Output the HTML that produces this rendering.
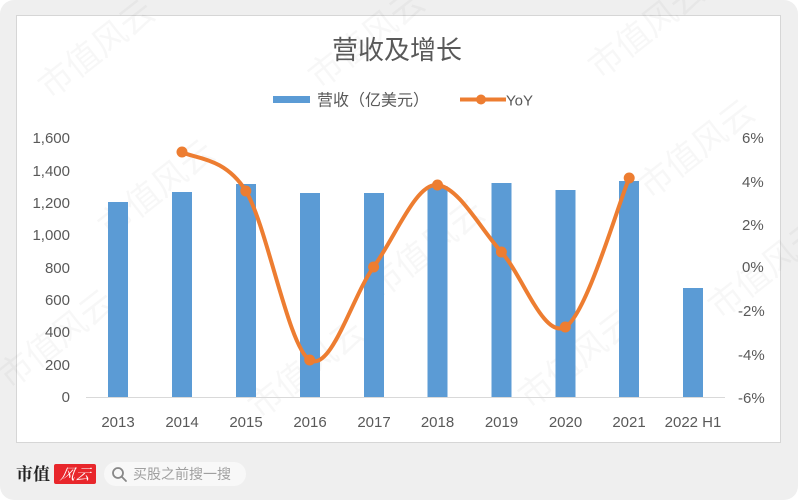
<!DOCTYPE html>
<html><head><meta charset="utf-8"><style>
html,body{margin:0;padding:0;background:#fff;width:798px;height:500px;overflow:hidden;}
svg{display:block;}
</style></head><body>
<svg width="798" height="500" viewBox="0 0 798 500" xmlns="http://www.w3.org/2000/svg" style="overflow:hidden">
<rect x="0" y="0" width="798" height="500" rx="14" fill="#efefef"/>
<rect x="16.5" y="15.5" width="764" height="427" fill="#ffffff" stroke="#d6d6d6" stroke-width="1"/>
<!-- watermarks -->
<g font-family="Liberation Sans, Noto Sans CJK SC, sans-serif" font-size="34" fill="#000" fill-opacity="0.03">
<text transform="translate(50,100) rotate(-38)">市值风云</text>
<text transform="translate(110,240) rotate(-38)">市值风云</text>
<text transform="translate(320,90) rotate(-38)">市值风云</text>
<text transform="translate(600,80) rotate(-38)">市值风云</text>
<text transform="translate(380,300) rotate(-38)">市值风云</text>
<text transform="translate(650,200) rotate(-38)">市值风云</text>
<text transform="translate(10,390) rotate(-38)">市值风云</text>
<text transform="translate(260,420) rotate(-38)">市值风云</text>
<text transform="translate(530,410) rotate(-38)">市值风云</text>
<text transform="translate(720,320) rotate(-38)">市值风云</text>
</g>
<!-- title -->
<text x="397" y="59" text-anchor="middle" font-family="Liberation Sans, Noto Sans CJK SC, sans-serif" font-size="26" fill="#595959">营收及增长</text>
<!-- legend -->
<rect x="273" y="96" width="37" height="7" fill="#5B9BD5"/>
<text x="317" y="105.5" font-family="Liberation Sans, Noto Sans CJK SC, sans-serif" font-size="16" fill="#595959">营收（亿美元）</text>
<line x1="460" y1="99.5" x2="506" y2="99.5" stroke="#ED7D31" stroke-width="4"/>
<circle cx="481" cy="99.5" r="5" fill="#ED7D31"/>
<text x="506" y="105.5" font-family="Liberation Sans, Noto Sans CJK SC, sans-serif" font-size="15" fill="#595959">YoY</text>
<!-- left axis labels -->
<g font-family="Liberation Sans, sans-serif" font-size="15" fill="#595959" text-anchor="end">
<text x="70" y="143">1,600</text>
<text x="70" y="176">1,400</text>
<text x="70" y="208">1,200</text>
<text x="70" y="240">1,000</text>
<text x="70" y="273">800</text>
<text x="70" y="305">600</text>
<text x="70" y="337">400</text>
<text x="70" y="370">200</text>
<text x="70" y="402">0</text>
</g>
<!-- right axis labels -->
<g font-family="Liberation Sans, sans-serif" font-size="15" fill="#595959" text-anchor="start">
<text x="742" y="143">6%</text>
<text x="742" y="187">4%</text>
<text x="742" y="230">2%</text>
<text x="742" y="272">0%</text>
<text x="738" y="316">-2%</text>
<text x="738" y="360">-4%</text>
<text x="738" y="403">-6%</text>
</g>
<!-- bars -->
<g fill="#5B9BD5">
<rect x="108" y="202" width="20" height="195"/>
<rect x="172" y="192" width="20" height="205"/>
<rect x="236" y="184" width="20" height="213"/>
<rect x="300" y="193" width="20" height="204"/>
<rect x="364" y="193" width="20" height="204"/>
<rect x="427.5" y="186" width="20" height="211"/>
<rect x="491.5" y="183" width="20" height="214"/>
<rect x="555.5" y="190" width="20" height="207"/>
<rect x="619" y="181" width="20" height="216"/>
<rect x="683" y="288" width="20" height="109"/>
</g>
<line x1="86" y1="397.5" x2="725" y2="397.5" stroke="#d9d9d9" stroke-width="1"/>
<!-- x labels -->
<g font-family="Liberation Sans, sans-serif" font-size="15" fill="#595959" text-anchor="middle">
<text x="118" y="427">2013</text>
<text x="182" y="427">2014</text>
<text x="246" y="427">2015</text>
<text x="310" y="427">2016</text>
<text x="374" y="427">2017</text>
<text x="437.5" y="427">2018</text>
<text x="501.5" y="427">2019</text>
<text x="565.5" y="427">2020</text>
<text x="629" y="427">2021</text>
<text x="693" y="427">2022 H1</text>
</g>
<!-- line -->
<path d="M182,152 C192.6,158.5 224.5,156.3 245.8,191 C267.1,225.7 288.4,347.3 309.7,360 C331,372.7 352.3,296.2 373.6,267 C394.9,237.8 416.2,182.5 437.5,185 C458.8,187.5 480.1,228.3 501.4,252 C522.7,275.7 544,339.3 565.3,327 C586.6,314.7 618.6,202.8 629.2,178" fill="none" stroke="#ED7D31" stroke-width="4" stroke-linecap="round" stroke-linejoin="round"/>
<g fill="#ED7D31">
<circle cx="182" cy="152" r="5.5"/>
<circle cx="245.8" cy="191" r="5.5"/>
<circle cx="309.7" cy="360" r="5.5"/>
<circle cx="373.6" cy="267" r="5.5"/>
<circle cx="437.5" cy="185" r="5.5"/>
<circle cx="501.4" cy="252" r="5.5"/>
<circle cx="565.3" cy="327" r="5.5"/>
<circle cx="629.2" cy="178" r="5.5"/>
</g>
<!-- footer -->
<text x="16" y="480" font-family="Liberation Serif, Noto Serif CJK SC, serif" font-size="17" font-weight="bold" fill="#222">市值</text>
<rect x="54" y="464" width="42" height="20" rx="2" fill="#e8262b"/>
<text x="75" y="479.5" text-anchor="middle" font-family="Liberation Serif, Noto Serif CJK SC, serif" font-size="15" font-style="italic" fill="#fff" transform="skewX(-10) translate(84,0)">风云</text>
<rect x="104" y="462" width="142" height="24" rx="12" fill="#f8f8f8"/>
<circle cx="118" cy="473" r="5" fill="none" stroke="#888" stroke-width="1.8"/>
<line x1="121.5" y1="476.5" x2="126" y2="481" stroke="#888" stroke-width="1.8" stroke-linecap="round"/>
<text x="133" y="479" font-family="Liberation Sans, Noto Sans CJK SC, sans-serif" font-size="14" fill="#a0a0a0">买股之前搜一搜</text>
</svg>
</body></html>
